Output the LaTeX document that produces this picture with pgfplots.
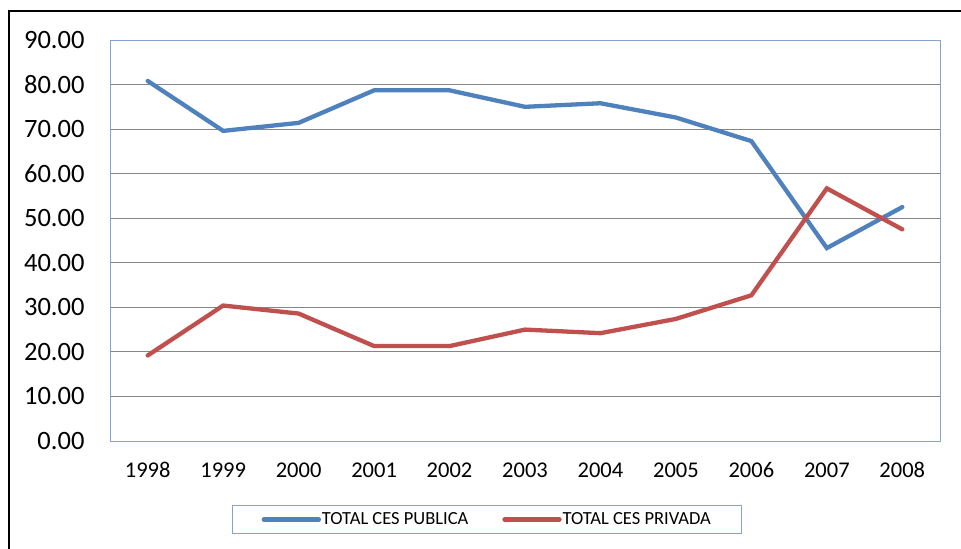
\documentclass[border=0pt]{standalone}
\usepackage{pgfplots}
\pgfplotsset{compat=1.18}
\usepackage{fontspec}
\setmainfont{Carlito}
\definecolor{serA}{HTML}{4F81BD}
\definecolor{serB}{HTML}{C0504D}
\definecolor{frameblue}{HTML}{86A3D0}
\definecolor{gridgray}{HTML}{868686}

\pgfplotstableread{
x publica privada
0 80.8 19.2
1 69.6 30.4
2 71.4 28.6
3 78.7 21.3
4 78.7 21.3
5 75.0 25.0
6 75.8 24.2
7 72.6 27.4
8 67.3 32.7
9 43.3 56.7
10 52.5 47.5
}\cesdata

\begin{document}
\begin{tikzpicture}[x=1bp,y=1bp]
\useasboundingbox (0,0) rectangle (961,549);
\draw[line width=2bp] (9,0) -- (9,538) -- (961,538);
\begin{axis}[
  at={(110bp,108bp)}, anchor=south west,
  scale only axis,
  width=830bp, height=401bp,
  xmin=-0.5, xmax=10.5,
  ymin=0, ymax=90,
  xtick={0,...,10},
  xticklabels={1998,1999,2000,2001,2002,2003,2004,2005,2006,2007,2008},
  ytick={0,10,...,90},
  major tick length=0pt,
  axis line style={frameblue, line width=0.8bp},
  ymajorgrids,
  grid style={gridgray, line width=0.9bp},
  /pgf/number format/assume math mode=true,
  /pgf/number format/fixed,
  /pgf/number format/fixed zerofill,
  /pgf/number format/precision=2,
  yticklabel style={font=\fontsize{26.5bp}{28bp}\selectfont, xshift=-22bp},
  xticklabel style={font=\fontsize{22.5bp}{24bp}\selectfont, yshift=-18bp},
  legend style={at={(0.454,-0.196)}, anchor=center,
    draw=frameblue, line width=0.9bp,
    font=\fontsize{18.5bp}{20bp}\selectfont,
    legend columns=2,
    inner ysep=5bp, inner xsep=29bp,
    nodes={inner xsep=1bp},
    /tikz/every even column/.append style={column sep=33bp}},
  legend image code/.code={\draw[#1] (0bp,0bp) -- (55bp,0bp);},
]
\addplot[serA, line width=4.3bp, line cap=round] table[x=x, y=publica] {\cesdata};
\addplot[serB, line width=4.3bp, line cap=round] table[x=x, y=privada] {\cesdata};
\legend{TOTAL CES PUBLICA, TOTAL CES PRIVADA}
\end{axis}
\end{tikzpicture}
\end{document}
